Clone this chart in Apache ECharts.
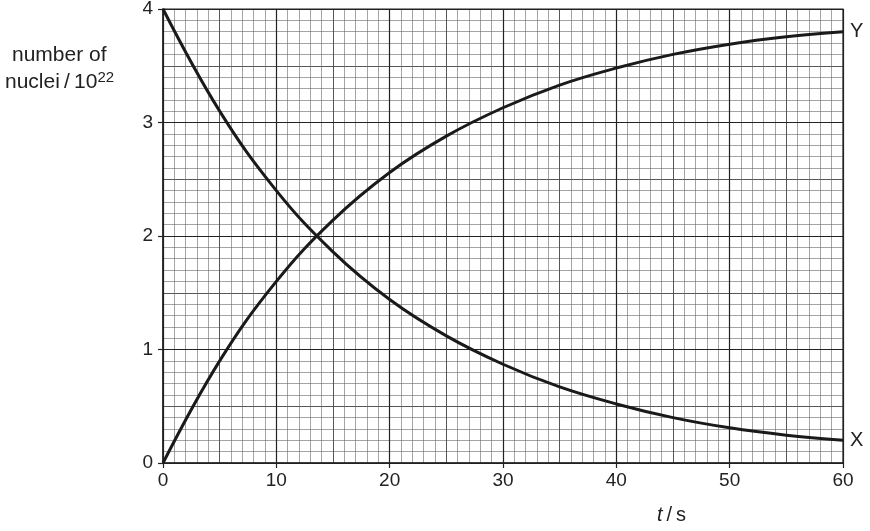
<!DOCTYPE html>
<html>
<head>
<meta charset="utf-8">
<script src="https://cdn.jsdelivr.net/npm/echarts@6/dist/echarts.min.js"></script>
<style>
html,body{margin:0;padding:0;background:#fff;}
#c{width:870px;height:531px;}
</style>
</head>
<body>
<div id="c"></div>
<script>
var times = [0,5,10,15,20,25,30,35,40,45,50,55,60];
var valuesX = [4.00,3.10,2.40,1.86,1.44,1.12,0.87,0.67,0.52,0.40,0.31,0.245,0.20];
var valuesY = [0.00,0.90,1.60,2.14,2.56,2.88,3.13,3.33,3.48,3.60,3.69,3.755,3.80];
var xTickLabels = ['0','10','20','30','40','50','60'];
var yTickLabels = ['0','1','2','3','4'];

var FONT = '"Liberation Sans", Arial, sans-serif';
function pairs(xs, ys){ return xs.map(function(x,i){ return [x, ys[i]]; }); }

var chart = echarts.init(document.getElementById('c'));
var gridPos = {left:163, right:27, top:9, bottom:68};

chart.setOption({
  animation:false,
  backgroundColor:'#fff',
  grid: Object.assign({show:true, borderColor:'#222', borderWidth:1.2, backgroundColor:'transparent',
    containLabel:false, outerBoundsMode:'none'}, gridPos),
  xAxis: [
    { type:'value', min:0, max:60, interval:5, z:0, position:'bottom',
      axisLine:{show:false}, axisTick:{show:false}, axisLabel:{show:false},
      splitLine:{show:true, lineStyle:{color:'#444', width:0.9}},
      minorTick:{show:false, splitNumber:5},
      minorSplitLine:{show:true, lineStyle:{color:'#666', width:0.6}} },
    { type:'value', min:0, max:60, interval:10, z:1, position:'bottom',
      axisLine:{show:true, onZero:false, lineStyle:{color:'#222', width:1.5}},
      axisTick:{show:true, inside:false, length:5, lineStyle:{color:'#222', width:1.2}},
      axisLabel:{show:true, margin:8, fontFamily:FONT, fontSize:19, color:'#222',
        formatter:function(v){ return xTickLabels[Math.round(v/10)]; }},
      splitLine:{show:true, lineStyle:{color:'#222', width:1.2}} }
  ],
  yAxis: [
    { type:'value', min:0, max:4, interval:0.5, z:0, position:'left',
      axisLine:{show:false}, axisTick:{show:false}, axisLabel:{show:false},
      splitLine:{show:true, lineStyle:{color:'#444', width:0.9}},
      minorTick:{show:false, splitNumber:5},
      minorSplitLine:{show:true, lineStyle:{color:'#666', width:0.6}} },
    { type:'value', min:0, max:4, interval:1, z:1, position:'left',
      axisLine:{show:true, onZero:false, lineStyle:{color:'#222', width:1.5}},
      axisTick:{show:true, inside:false, length:5, lineStyle:{color:'#222', width:1.2}},
      axisLabel:{show:true, margin:10, fontFamily:FONT, fontSize:19, color:'#222',
        formatter:function(v){ return yTickLabels[Math.round(v)]; }},
      splitLine:{show:true, lineStyle:{color:'#222', width:1.2}} }
  ],
  series: [
    { name:'X', type:'line', xAxisIndex:1, yAxisIndex:1, data:pairs(times, valuesX),
      smooth:0.4, showSymbol:false, z:5,
      lineStyle:{color:'#1a1a1a', width:3},
      endLabel:{show:true, formatter:'X', fontFamily:FONT, fontSize:20, color:'#222', distance:7} },
    { name:'Y', type:'line', xAxisIndex:1, yAxisIndex:1, data:pairs(times, valuesY),
      smooth:0.4, showSymbol:false, z:5,
      lineStyle:{color:'#1a1a1a', width:3},
      endLabel:{show:true, formatter:'Y', fontFamily:FONT, fontSize:20, color:'#222', distance:7} }
  ],
  graphic: [
    { type:'text', left:12, top:45, style:{ text:'number of', font:'21px ' + FONT, fill:'#222' } },
    { type:'text', left:5, top:70, style:{
        text:'nuclei\u2009/\u200910{s|22}', font:'21px ' + FONT, fill:'#222',
        rich:{ s:{ fontSize:15, fontFamily:FONT, verticalAlign:'top', padding:[0,0,9,0], fill:'#222' } } } },
    { type:'text', left:657, top:505, style:{
        text:'{i|t}\u2009/\u2009s', font:'20px ' + FONT, fill:'#222',
        rich:{ i:{ fontStyle:'italic', fontSize:20, fontFamily:FONT, fill:'#222' } } } }
  ]
});
</script>
</body>
</html>
